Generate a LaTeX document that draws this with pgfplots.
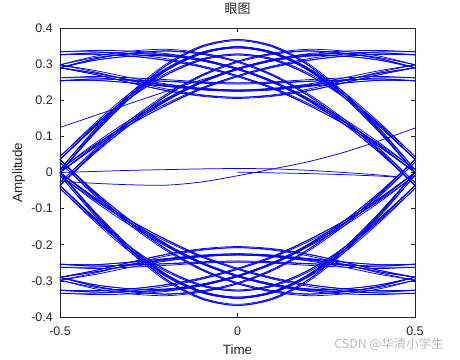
\documentclass[border=0pt]{standalone}
\usepackage{fontspec}
\setmainfont{Liberation Sans}
\newfontfamily\cjk{Noto Sans CJK SC}
\usepackage{pgfplots}
\pgfplotsset{compat=1.18}
\definecolor{axgray}{RGB}{38,38,38}
\definecolor{wm}{RGB}{185,185,185}
\pgfplotsset{tr/.style={color=blue, line width=0.75pt, smooth, mark=none}}
\begin{document}
\begin{tikzpicture}
\useasboundingbox (-60bp,-43bp) rectangle (400bp,317bp);
\begin{axis}[
  at={(0,0)}, anchor=south west,
  scale only axis, width=355bp, height=289bp,
  xmin=-0.5, xmax=0.5, ymin=-0.4, ymax=0.4,
  xtick={-0.5,0,0.5}, xticklabels={-0.5,0,0.5},
  ytick={-0.4,-0.3,-0.2,-0.1,0,0.1,0.2,0.3,0.4},
  yticklabels={-0.4,-0.3,-0.2,-0.1,0,0.1,0.2,0.3,0.4},
  tick align=inside, xtick pos=both, ytick pos=both,
  major tick length=4bp,
  axis line style={axgray, line width=0.7bp},
  every tick/.style={axgray, line width=0.7bp},
  tick label style={text=axgray, font=\fontsize{12.5}{14}\selectfont},
  xticklabel style={anchor=north, inner sep=0pt, yshift=-10bp},
  yticklabel style={anchor=east, inner sep=0pt, xshift=-7bp},
  title={\cjk 眼图},
  title style={at={(axis description cs:0.5,1.024)}, anchor=south, inner sep=0pt, text=axgray, font=\fontsize{13}{15}\selectfont},
  xlabel={Time},
  xlabel style={at={(axis description cs:0.5,-0.097)}, anchor=north, inner sep=0pt, text=axgray, font=\fontsize{13.5}{15}\selectfont},
  ylabel={Amplitude},
  ylabel style={at={(axis description cs:-0.098,0.5)}, anchor=south, inner sep=0pt, text=axgray, font=\fontsize{13.5}{15}\selectfont},
  clip=true,
]
% upper traces, set u
\addplot[tr] coordinates {(-0.5,0.254)(-0.4,0.259)(-0.3,0.256)(-0.2,0.252)(-0.1,0.247)(0,0.245)(0.1,0.247)(0.2,0.252)(0.3,0.256)(0.4,0.259)(0.5,0.254)};
\addplot[tr] coordinates {(-0.5,0.254)(-0.4,0.255)(-0.3,0.248)(-0.2,0.238)(-0.1,0.229)(0,0.225)(0.1,0.229)(0.2,0.240)(0.3,0.256)(0.4,0.275)(0.5,0.290)};
\addplot[tr] coordinates {(-0.5,0.290)(-0.4,0.275)(-0.3,0.256)(-0.2,0.240)(-0.1,0.229)(0,0.225)(0.1,0.229)(0.2,0.238)(0.3,0.248)(0.4,0.255)(0.5,0.254)};
\addplot[tr] coordinates {(-0.5,0.290)(-0.4,0.271)(-0.3,0.248)(-0.2,0.226)(-0.1,0.211)(0,0.205)(0.1,0.211)(0.2,0.226)(0.3,0.248)(0.4,0.271)(0.5,0.290)};
\addplot[tr] coordinates {(-0.5,0.290)(-0.4,0.315)(-0.3,0.330)(-0.2,0.336)(-0.1,0.327)(0,0.305)(0.1,0.267)(0.2,0.212)(0.3,0.142)(0.4,0.059)(0.5,-0.036)};
\addplot[tr] coordinates {(-0.5,0.290)(-0.4,0.311)(-0.3,0.322)(-0.2,0.322)(-0.1,0.309)(0,0.285)(0.1,0.249)(0.2,0.200)(0.3,0.142)(0.4,0.075)(0.5,0.000)};
\addplot[tr] coordinates {(-0.5,0.326)(-0.4,0.331)(-0.3,0.330)(-0.2,0.324)(-0.1,0.309)(0,0.285)(0.1,0.249)(0.2,0.198)(0.3,0.134)(0.4,0.055)(0.5,-0.036)};
\addplot[tr] coordinates {(-0.5,0.326)(-0.4,0.327)(-0.3,0.322)(-0.2,0.310)(-0.1,0.291)(0,0.265)(0.1,0.231)(0.2,0.186)(0.3,0.134)(0.4,0.071)(0.5,0.000)};
\addplot[tr] coordinates {(-0.5,-0.036)(-0.4,0.059)(-0.3,0.142)(-0.2,0.212)(-0.1,0.267)(0,0.305)(0.1,0.327)(0.2,0.336)(0.3,0.330)(0.4,0.315)(0.5,0.290)};
\addplot[tr] coordinates {(-0.5,-0.036)(-0.4,0.055)(-0.3,0.134)(-0.2,0.198)(-0.1,0.249)(0,0.285)(0.1,0.309)(0.2,0.324)(0.3,0.330)(0.4,0.331)(0.5,0.326)};
\addplot[tr] coordinates {(-0.5,0.000)(-0.4,0.075)(-0.3,0.142)(-0.2,0.200)(-0.1,0.249)(0,0.285)(0.1,0.309)(0.2,0.322)(0.3,0.322)(0.4,0.311)(0.5,0.290)};
\addplot[tr] coordinates {(-0.5,0.000)(-0.4,0.071)(-0.3,0.134)(-0.2,0.186)(-0.1,0.231)(0,0.265)(0.1,0.291)(0.2,0.310)(0.3,0.322)(0.4,0.327)(0.5,0.326)};
\addplot[tr] coordinates {(-0.5,0.000)(-0.4,0.115)(-0.3,0.216)(-0.2,0.296)(-0.1,0.347)(0,0.365)(0.1,0.347)(0.2,0.296)(0.3,0.216)(0.4,0.115)(0.5,0.000)};
\addplot[tr] coordinates {(-0.5,0.000)(-0.4,0.111)(-0.3,0.208)(-0.2,0.282)(-0.1,0.329)(0,0.345)(0.1,0.329)(0.2,0.284)(0.3,0.216)(0.4,0.131)(0.5,0.036)};
\addplot[tr] coordinates {(-0.5,0.036)(-0.4,0.131)(-0.3,0.216)(-0.2,0.284)(-0.1,0.329)(0,0.345)(0.1,0.329)(0.2,0.282)(0.3,0.208)(0.4,0.111)(0.5,0.000)};
\addplot[tr] coordinates {(-0.5,0.036)(-0.4,0.127)(-0.3,0.208)(-0.2,0.270)(-0.1,0.311)(0,0.325)(0.1,0.311)(0.2,0.270)(0.3,0.208)(0.4,0.127)(0.5,0.036)};
% upper traces, set v
\addplot[tr] coordinates {(-0.5,0.262)(-0.4,0.266)(-0.3,0.262)(-0.2,0.257)(-0.1,0.251)(0,0.248)(0.1,0.249)(0.2,0.253)(0.3,0.256)(0.4,0.259)(0.5,0.254)};
\addplot[tr] coordinates {(-0.5,0.262)(-0.4,0.262)(-0.3,0.254)(-0.2,0.243)(-0.1,0.233)(0,0.228)(0.1,0.231)(0.2,0.241)(0.3,0.256)(0.4,0.275)(0.5,0.290)};
\addplot[tr] coordinates {(-0.5,0.298)(-0.4,0.282)(-0.3,0.262)(-0.2,0.245)(-0.1,0.233)(0,0.228)(0.1,0.231)(0.2,0.239)(0.3,0.248)(0.4,0.255)(0.5,0.254)};
\addplot[tr] coordinates {(-0.5,0.298)(-0.4,0.278)(-0.3,0.254)(-0.2,0.231)(-0.1,0.215)(0,0.208)(0.1,0.213)(0.2,0.227)(0.3,0.248)(0.4,0.271)(0.5,0.290)};
\addplot[tr] coordinates {(-0.5,0.298)(-0.4,0.322)(-0.3,0.336)(-0.2,0.341)(-0.1,0.331)(0,0.308)(0.1,0.269)(0.2,0.213)(0.3,0.142)(0.4,0.059)(0.5,-0.036)};
\addplot[tr] coordinates {(-0.5,0.298)(-0.4,0.318)(-0.3,0.328)(-0.2,0.327)(-0.1,0.313)(0,0.288)(0.1,0.251)(0.2,0.201)(0.3,0.142)(0.4,0.075)(0.5,0.000)};
\addplot[tr] coordinates {(-0.5,0.334)(-0.4,0.338)(-0.3,0.336)(-0.2,0.329)(-0.1,0.313)(0,0.288)(0.1,0.251)(0.2,0.199)(0.3,0.134)(0.4,0.055)(0.5,-0.036)};
\addplot[tr] coordinates {(-0.5,0.334)(-0.4,0.334)(-0.3,0.328)(-0.2,0.315)(-0.1,0.295)(0,0.268)(0.1,0.233)(0.2,0.187)(0.3,0.134)(0.4,0.071)(0.5,0.000)};
\addplot[tr] coordinates {(-0.5,-0.028)(-0.4,0.066)(-0.3,0.148)(-0.2,0.217)(-0.1,0.271)(0,0.308)(0.1,0.329)(0.2,0.337)(0.3,0.330)(0.4,0.315)(0.5,0.290)};
\addplot[tr] coordinates {(-0.5,-0.028)(-0.4,0.062)(-0.3,0.140)(-0.2,0.203)(-0.1,0.253)(0,0.288)(0.1,0.311)(0.2,0.325)(0.3,0.330)(0.4,0.331)(0.5,0.326)};
\addplot[tr] coordinates {(-0.5,0.008)(-0.4,0.082)(-0.3,0.148)(-0.2,0.205)(-0.1,0.253)(0,0.288)(0.1,0.311)(0.2,0.323)(0.3,0.322)(0.4,0.311)(0.5,0.290)};
\addplot[tr] coordinates {(-0.5,0.008)(-0.4,0.078)(-0.3,0.140)(-0.2,0.191)(-0.1,0.235)(0,0.268)(0.1,0.293)(0.2,0.311)(0.3,0.322)(0.4,0.327)(0.5,0.326)};
\addplot[tr] coordinates {(-0.5,0.008)(-0.4,0.122)(-0.3,0.222)(-0.2,0.301)(-0.1,0.351)(0,0.368)(0.1,0.349)(0.2,0.297)(0.3,0.216)(0.4,0.115)(0.5,0.000)};
\addplot[tr] coordinates {(-0.5,0.008)(-0.4,0.118)(-0.3,0.214)(-0.2,0.287)(-0.1,0.333)(0,0.348)(0.1,0.331)(0.2,0.285)(0.3,0.216)(0.4,0.131)(0.5,0.036)};
\addplot[tr] coordinates {(-0.5,0.044)(-0.4,0.138)(-0.3,0.222)(-0.2,0.289)(-0.1,0.333)(0,0.348)(0.1,0.331)(0.2,0.283)(0.3,0.208)(0.4,0.111)(0.5,0.000)};
\addplot[tr] coordinates {(-0.5,0.044)(-0.4,0.134)(-0.3,0.214)(-0.2,0.275)(-0.1,0.315)(0,0.328)(0.1,0.313)(0.2,0.271)(0.3,0.208)(0.4,0.127)(0.5,0.036)};
% upper traces, set w
\addplot[tr] coordinates {(-0.5,0.254)(-0.4,0.259)(-0.3,0.256)(-0.2,0.253)(-0.1,0.249)(0,0.248)(0.1,0.251)(0.2,0.257)(0.3,0.262)(0.4,0.266)(0.5,0.262)};
\addplot[tr] coordinates {(-0.5,0.254)(-0.4,0.255)(-0.3,0.248)(-0.2,0.239)(-0.1,0.231)(0,0.228)(0.1,0.233)(0.2,0.245)(0.3,0.262)(0.4,0.282)(0.5,0.298)};
\addplot[tr] coordinates {(-0.5,0.290)(-0.4,0.275)(-0.3,0.256)(-0.2,0.241)(-0.1,0.231)(0,0.228)(0.1,0.233)(0.2,0.243)(0.3,0.254)(0.4,0.262)(0.5,0.262)};
\addplot[tr] coordinates {(-0.5,0.290)(-0.4,0.271)(-0.3,0.248)(-0.2,0.227)(-0.1,0.213)(0,0.208)(0.1,0.215)(0.2,0.231)(0.3,0.254)(0.4,0.278)(0.5,0.298)};
\addplot[tr] coordinates {(-0.5,0.290)(-0.4,0.315)(-0.3,0.330)(-0.2,0.337)(-0.1,0.329)(0,0.308)(0.1,0.271)(0.2,0.217)(0.3,0.148)(0.4,0.066)(0.5,-0.028)};
\addplot[tr] coordinates {(-0.5,0.290)(-0.4,0.311)(-0.3,0.322)(-0.2,0.323)(-0.1,0.311)(0,0.288)(0.1,0.253)(0.2,0.205)(0.3,0.148)(0.4,0.082)(0.5,0.008)};
\addplot[tr] coordinates {(-0.5,0.326)(-0.4,0.331)(-0.3,0.330)(-0.2,0.325)(-0.1,0.311)(0,0.288)(0.1,0.253)(0.2,0.203)(0.3,0.140)(0.4,0.062)(0.5,-0.028)};
\addplot[tr] coordinates {(-0.5,0.326)(-0.4,0.327)(-0.3,0.322)(-0.2,0.311)(-0.1,0.293)(0,0.268)(0.1,0.235)(0.2,0.191)(0.3,0.140)(0.4,0.078)(0.5,0.008)};
\addplot[tr] coordinates {(-0.5,-0.036)(-0.4,0.059)(-0.3,0.142)(-0.2,0.213)(-0.1,0.269)(0,0.308)(0.1,0.331)(0.2,0.341)(0.3,0.336)(0.4,0.322)(0.5,0.298)};
\addplot[tr] coordinates {(-0.5,-0.036)(-0.4,0.055)(-0.3,0.134)(-0.2,0.199)(-0.1,0.251)(0,0.288)(0.1,0.313)(0.2,0.329)(0.3,0.336)(0.4,0.338)(0.5,0.334)};
\addplot[tr] coordinates {(-0.5,0.000)(-0.4,0.075)(-0.3,0.142)(-0.2,0.201)(-0.1,0.251)(0,0.288)(0.1,0.313)(0.2,0.327)(0.3,0.328)(0.4,0.318)(0.5,0.298)};
\addplot[tr] coordinates {(-0.5,0.000)(-0.4,0.071)(-0.3,0.134)(-0.2,0.187)(-0.1,0.233)(0,0.268)(0.1,0.295)(0.2,0.315)(0.3,0.328)(0.4,0.334)(0.5,0.334)};
\addplot[tr] coordinates {(-0.5,0.000)(-0.4,0.115)(-0.3,0.216)(-0.2,0.297)(-0.1,0.349)(0,0.368)(0.1,0.351)(0.2,0.301)(0.3,0.222)(0.4,0.122)(0.5,0.008)};
\addplot[tr] coordinates {(-0.5,0.000)(-0.4,0.111)(-0.3,0.208)(-0.2,0.283)(-0.1,0.331)(0,0.348)(0.1,0.333)(0.2,0.289)(0.3,0.222)(0.4,0.138)(0.5,0.044)};
\addplot[tr] coordinates {(-0.5,0.036)(-0.4,0.131)(-0.3,0.216)(-0.2,0.285)(-0.1,0.331)(0,0.348)(0.1,0.333)(0.2,0.287)(0.3,0.214)(0.4,0.118)(0.5,0.008)};
\addplot[tr] coordinates {(-0.5,0.036)(-0.4,0.127)(-0.3,0.208)(-0.2,0.271)(-0.1,0.313)(0,0.328)(0.1,0.315)(0.2,0.275)(0.3,0.214)(0.4,0.134)(0.5,0.044)};
% lower traces, set -u
\addplot[tr] coordinates {(-0.5,-0.254)(-0.4,-0.259)(-0.3,-0.256)(-0.2,-0.252)(-0.1,-0.247)(0,-0.245)(0.1,-0.247)(0.2,-0.252)(0.3,-0.256)(0.4,-0.259)(0.5,-0.254)};
\addplot[tr] coordinates {(-0.5,-0.254)(-0.4,-0.255)(-0.3,-0.248)(-0.2,-0.238)(-0.1,-0.229)(0,-0.225)(0.1,-0.229)(0.2,-0.240)(0.3,-0.256)(0.4,-0.275)(0.5,-0.290)};
\addplot[tr] coordinates {(-0.5,-0.290)(-0.4,-0.275)(-0.3,-0.256)(-0.2,-0.240)(-0.1,-0.229)(0,-0.225)(0.1,-0.229)(0.2,-0.238)(0.3,-0.248)(0.4,-0.255)(0.5,-0.254)};
\addplot[tr] coordinates {(-0.5,-0.290)(-0.4,-0.271)(-0.3,-0.248)(-0.2,-0.226)(-0.1,-0.211)(0,-0.205)(0.1,-0.211)(0.2,-0.226)(0.3,-0.248)(0.4,-0.271)(0.5,-0.290)};
\addplot[tr] coordinates {(-0.5,-0.290)(-0.4,-0.315)(-0.3,-0.330)(-0.2,-0.336)(-0.1,-0.327)(0,-0.305)(0.1,-0.267)(0.2,-0.212)(0.3,-0.142)(0.4,-0.059)(0.5,0.036)};
\addplot[tr] coordinates {(-0.5,-0.290)(-0.4,-0.311)(-0.3,-0.322)(-0.2,-0.322)(-0.1,-0.309)(0,-0.285)(0.1,-0.249)(0.2,-0.200)(0.3,-0.142)(0.4,-0.075)(0.5,0.000)};
\addplot[tr] coordinates {(-0.5,-0.326)(-0.4,-0.331)(-0.3,-0.330)(-0.2,-0.324)(-0.1,-0.309)(0,-0.285)(0.1,-0.249)(0.2,-0.198)(0.3,-0.134)(0.4,-0.055)(0.5,0.036)};
\addplot[tr] coordinates {(-0.5,-0.326)(-0.4,-0.327)(-0.3,-0.322)(-0.2,-0.310)(-0.1,-0.291)(0,-0.265)(0.1,-0.231)(0.2,-0.186)(0.3,-0.134)(0.4,-0.071)(0.5,0.000)};
\addplot[tr] coordinates {(-0.5,0.036)(-0.4,-0.059)(-0.3,-0.142)(-0.2,-0.212)(-0.1,-0.267)(0,-0.305)(0.1,-0.327)(0.2,-0.336)(0.3,-0.330)(0.4,-0.315)(0.5,-0.290)};
\addplot[tr] coordinates {(-0.5,0.036)(-0.4,-0.055)(-0.3,-0.134)(-0.2,-0.198)(-0.1,-0.249)(0,-0.285)(0.1,-0.309)(0.2,-0.324)(0.3,-0.330)(0.4,-0.331)(0.5,-0.326)};
\addplot[tr] coordinates {(-0.5,0.000)(-0.4,-0.075)(-0.3,-0.142)(-0.2,-0.200)(-0.1,-0.249)(0,-0.285)(0.1,-0.309)(0.2,-0.322)(0.3,-0.322)(0.4,-0.311)(0.5,-0.290)};
\addplot[tr] coordinates {(-0.5,0.000)(-0.4,-0.071)(-0.3,-0.134)(-0.2,-0.186)(-0.1,-0.231)(0,-0.265)(0.1,-0.291)(0.2,-0.310)(0.3,-0.322)(0.4,-0.327)(0.5,-0.326)};
\addplot[tr] coordinates {(-0.5,0.000)(-0.4,-0.115)(-0.3,-0.216)(-0.2,-0.296)(-0.1,-0.347)(0,-0.365)(0.1,-0.347)(0.2,-0.296)(0.3,-0.216)(0.4,-0.115)(0.5,0.000)};
\addplot[tr] coordinates {(-0.5,0.000)(-0.4,-0.111)(-0.3,-0.208)(-0.2,-0.282)(-0.1,-0.329)(0,-0.345)(0.1,-0.329)(0.2,-0.284)(0.3,-0.216)(0.4,-0.131)(0.5,-0.036)};
\addplot[tr] coordinates {(-0.5,-0.036)(-0.4,-0.131)(-0.3,-0.216)(-0.2,-0.284)(-0.1,-0.329)(0,-0.345)(0.1,-0.329)(0.2,-0.282)(0.3,-0.208)(0.4,-0.111)(0.5,0.000)};
\addplot[tr] coordinates {(-0.5,-0.036)(-0.4,-0.127)(-0.3,-0.208)(-0.2,-0.270)(-0.1,-0.311)(0,-0.325)(0.1,-0.311)(0.2,-0.270)(0.3,-0.208)(0.4,-0.127)(0.5,-0.036)};
% lower traces, set -v
\addplot[tr] coordinates {(-0.5,-0.262)(-0.4,-0.266)(-0.3,-0.262)(-0.2,-0.257)(-0.1,-0.251)(0,-0.248)(0.1,-0.249)(0.2,-0.253)(0.3,-0.256)(0.4,-0.259)(0.5,-0.254)};
\addplot[tr] coordinates {(-0.5,-0.262)(-0.4,-0.262)(-0.3,-0.254)(-0.2,-0.243)(-0.1,-0.233)(0,-0.228)(0.1,-0.231)(0.2,-0.241)(0.3,-0.256)(0.4,-0.275)(0.5,-0.290)};
\addplot[tr] coordinates {(-0.5,-0.298)(-0.4,-0.282)(-0.3,-0.262)(-0.2,-0.245)(-0.1,-0.233)(0,-0.228)(0.1,-0.231)(0.2,-0.239)(0.3,-0.248)(0.4,-0.255)(0.5,-0.254)};
\addplot[tr] coordinates {(-0.5,-0.298)(-0.4,-0.278)(-0.3,-0.254)(-0.2,-0.231)(-0.1,-0.215)(0,-0.208)(0.1,-0.213)(0.2,-0.227)(0.3,-0.248)(0.4,-0.271)(0.5,-0.290)};
\addplot[tr] coordinates {(-0.5,-0.298)(-0.4,-0.322)(-0.3,-0.336)(-0.2,-0.341)(-0.1,-0.331)(0,-0.308)(0.1,-0.269)(0.2,-0.213)(0.3,-0.142)(0.4,-0.059)(0.5,0.036)};
\addplot[tr] coordinates {(-0.5,-0.298)(-0.4,-0.318)(-0.3,-0.328)(-0.2,-0.327)(-0.1,-0.313)(0,-0.288)(0.1,-0.251)(0.2,-0.201)(0.3,-0.142)(0.4,-0.075)(0.5,0.000)};
\addplot[tr] coordinates {(-0.5,-0.334)(-0.4,-0.338)(-0.3,-0.336)(-0.2,-0.329)(-0.1,-0.313)(0,-0.288)(0.1,-0.251)(0.2,-0.199)(0.3,-0.134)(0.4,-0.055)(0.5,0.036)};
\addplot[tr] coordinates {(-0.5,-0.334)(-0.4,-0.334)(-0.3,-0.328)(-0.2,-0.315)(-0.1,-0.295)(0,-0.268)(0.1,-0.233)(0.2,-0.187)(0.3,-0.134)(0.4,-0.071)(0.5,0.000)};
\addplot[tr] coordinates {(-0.5,0.028)(-0.4,-0.066)(-0.3,-0.148)(-0.2,-0.217)(-0.1,-0.271)(0,-0.308)(0.1,-0.329)(0.2,-0.337)(0.3,-0.330)(0.4,-0.315)(0.5,-0.290)};
\addplot[tr] coordinates {(-0.5,0.028)(-0.4,-0.062)(-0.3,-0.140)(-0.2,-0.203)(-0.1,-0.253)(0,-0.288)(0.1,-0.311)(0.2,-0.325)(0.3,-0.330)(0.4,-0.331)(0.5,-0.326)};
\addplot[tr] coordinates {(-0.5,-0.008)(-0.4,-0.082)(-0.3,-0.148)(-0.2,-0.205)(-0.1,-0.253)(0,-0.288)(0.1,-0.311)(0.2,-0.323)(0.3,-0.322)(0.4,-0.311)(0.5,-0.290)};
\addplot[tr] coordinates {(-0.5,-0.008)(-0.4,-0.078)(-0.3,-0.140)(-0.2,-0.191)(-0.1,-0.235)(0,-0.268)(0.1,-0.293)(0.2,-0.311)(0.3,-0.322)(0.4,-0.327)(0.5,-0.326)};
\addplot[tr] coordinates {(-0.5,-0.008)(-0.4,-0.122)(-0.3,-0.222)(-0.2,-0.301)(-0.1,-0.351)(0,-0.368)(0.1,-0.349)(0.2,-0.297)(0.3,-0.216)(0.4,-0.115)(0.5,0.000)};
\addplot[tr] coordinates {(-0.5,-0.008)(-0.4,-0.118)(-0.3,-0.214)(-0.2,-0.287)(-0.1,-0.333)(0,-0.348)(0.1,-0.331)(0.2,-0.285)(0.3,-0.216)(0.4,-0.131)(0.5,-0.036)};
\addplot[tr] coordinates {(-0.5,-0.044)(-0.4,-0.138)(-0.3,-0.222)(-0.2,-0.289)(-0.1,-0.333)(0,-0.348)(0.1,-0.331)(0.2,-0.283)(0.3,-0.208)(0.4,-0.111)(0.5,0.000)};
\addplot[tr] coordinates {(-0.5,-0.044)(-0.4,-0.134)(-0.3,-0.214)(-0.2,-0.275)(-0.1,-0.315)(0,-0.328)(0.1,-0.313)(0.2,-0.271)(0.3,-0.208)(0.4,-0.127)(0.5,-0.036)};
% lower traces, set -w
\addplot[tr] coordinates {(-0.5,-0.254)(-0.4,-0.259)(-0.3,-0.256)(-0.2,-0.253)(-0.1,-0.249)(0,-0.248)(0.1,-0.251)(0.2,-0.257)(0.3,-0.262)(0.4,-0.266)(0.5,-0.262)};
\addplot[tr] coordinates {(-0.5,-0.254)(-0.4,-0.255)(-0.3,-0.248)(-0.2,-0.239)(-0.1,-0.231)(0,-0.228)(0.1,-0.233)(0.2,-0.245)(0.3,-0.262)(0.4,-0.282)(0.5,-0.298)};
\addplot[tr] coordinates {(-0.5,-0.290)(-0.4,-0.275)(-0.3,-0.256)(-0.2,-0.241)(-0.1,-0.231)(0,-0.228)(0.1,-0.233)(0.2,-0.243)(0.3,-0.254)(0.4,-0.262)(0.5,-0.262)};
\addplot[tr] coordinates {(-0.5,-0.290)(-0.4,-0.271)(-0.3,-0.248)(-0.2,-0.227)(-0.1,-0.213)(0,-0.208)(0.1,-0.215)(0.2,-0.231)(0.3,-0.254)(0.4,-0.278)(0.5,-0.298)};
\addplot[tr] coordinates {(-0.5,-0.290)(-0.4,-0.315)(-0.3,-0.330)(-0.2,-0.337)(-0.1,-0.329)(0,-0.308)(0.1,-0.271)(0.2,-0.217)(0.3,-0.148)(0.4,-0.066)(0.5,0.028)};
\addplot[tr] coordinates {(-0.5,-0.290)(-0.4,-0.311)(-0.3,-0.322)(-0.2,-0.323)(-0.1,-0.311)(0,-0.288)(0.1,-0.253)(0.2,-0.205)(0.3,-0.148)(0.4,-0.082)(0.5,-0.008)};
\addplot[tr] coordinates {(-0.5,-0.326)(-0.4,-0.331)(-0.3,-0.330)(-0.2,-0.325)(-0.1,-0.311)(0,-0.288)(0.1,-0.253)(0.2,-0.203)(0.3,-0.140)(0.4,-0.062)(0.5,0.028)};
\addplot[tr] coordinates {(-0.5,-0.326)(-0.4,-0.327)(-0.3,-0.322)(-0.2,-0.311)(-0.1,-0.293)(0,-0.268)(0.1,-0.235)(0.2,-0.191)(0.3,-0.140)(0.4,-0.078)(0.5,-0.008)};
\addplot[tr] coordinates {(-0.5,0.036)(-0.4,-0.059)(-0.3,-0.142)(-0.2,-0.213)(-0.1,-0.269)(0,-0.308)(0.1,-0.331)(0.2,-0.341)(0.3,-0.336)(0.4,-0.322)(0.5,-0.298)};
\addplot[tr] coordinates {(-0.5,0.036)(-0.4,-0.055)(-0.3,-0.134)(-0.2,-0.199)(-0.1,-0.251)(0,-0.288)(0.1,-0.313)(0.2,-0.329)(0.3,-0.336)(0.4,-0.338)(0.5,-0.334)};
\addplot[tr] coordinates {(-0.5,0.000)(-0.4,-0.075)(-0.3,-0.142)(-0.2,-0.201)(-0.1,-0.251)(0,-0.288)(0.1,-0.313)(0.2,-0.327)(0.3,-0.328)(0.4,-0.318)(0.5,-0.298)};
\addplot[tr] coordinates {(-0.5,0.000)(-0.4,-0.071)(-0.3,-0.134)(-0.2,-0.187)(-0.1,-0.233)(0,-0.268)(0.1,-0.295)(0.2,-0.315)(0.3,-0.328)(0.4,-0.334)(0.5,-0.334)};
\addplot[tr] coordinates {(-0.5,0.000)(-0.4,-0.115)(-0.3,-0.216)(-0.2,-0.297)(-0.1,-0.349)(0,-0.368)(0.1,-0.351)(0.2,-0.301)(0.3,-0.222)(0.4,-0.122)(0.5,-0.008)};
\addplot[tr] coordinates {(-0.5,0.000)(-0.4,-0.111)(-0.3,-0.208)(-0.2,-0.283)(-0.1,-0.331)(0,-0.348)(0.1,-0.333)(0.2,-0.289)(0.3,-0.222)(0.4,-0.138)(0.5,-0.044)};
\addplot[tr] coordinates {(-0.5,-0.036)(-0.4,-0.131)(-0.3,-0.216)(-0.2,-0.285)(-0.1,-0.331)(0,-0.348)(0.1,-0.333)(0.2,-0.287)(0.3,-0.214)(0.4,-0.118)(0.5,-0.008)};
\addplot[tr] coordinates {(-0.5,-0.036)(-0.4,-0.127)(-0.3,-0.208)(-0.2,-0.271)(-0.1,-0.313)(0,-0.328)(0.1,-0.315)(0.2,-0.275)(0.3,-0.214)(0.4,-0.134)(0.5,-0.044)};
% start/end transient traces
\addplot[tr] coordinates {(-0.5,0.125)(-0.4,0.158)(-0.3,0.192)(-0.2,0.225)(-0.1,0.257)(0,0.285)};
\addplot[tr] coordinates {(-0.5,0.000)(-0.4,0.003)(-0.3,0.006)(-0.2,0.008)(-0.1,0.010)(0,0.011)(0.1,0.010)(0.2,0.006)(0.3,0.000)(0.4,-0.007)(0.45,-0.012)};
\addplot[tr] coordinates {(0,0.001)(0.1,-0.001)(0.2,-0.003)(0.3,-0.006)(0.4,-0.010)(0.45,-0.013)};
\addplot[tr] coordinates {(-0.5,-0.024)(-0.4,-0.030)(-0.3,-0.034)(-0.2,-0.035)(-0.1,-0.026)(0,-0.009)(0.1,0.010)(0.2,0.030)(0.3,0.056)(0.4,0.088)(0.5,0.123)};
\end{axis}
\node[text=wm, font=\cjk\fontsize{12.5}{14}\selectfont, inner sep=0pt] at (329bp,-27bp) {CSDN @华清小学生};
\end{tikzpicture}
\end{document}
